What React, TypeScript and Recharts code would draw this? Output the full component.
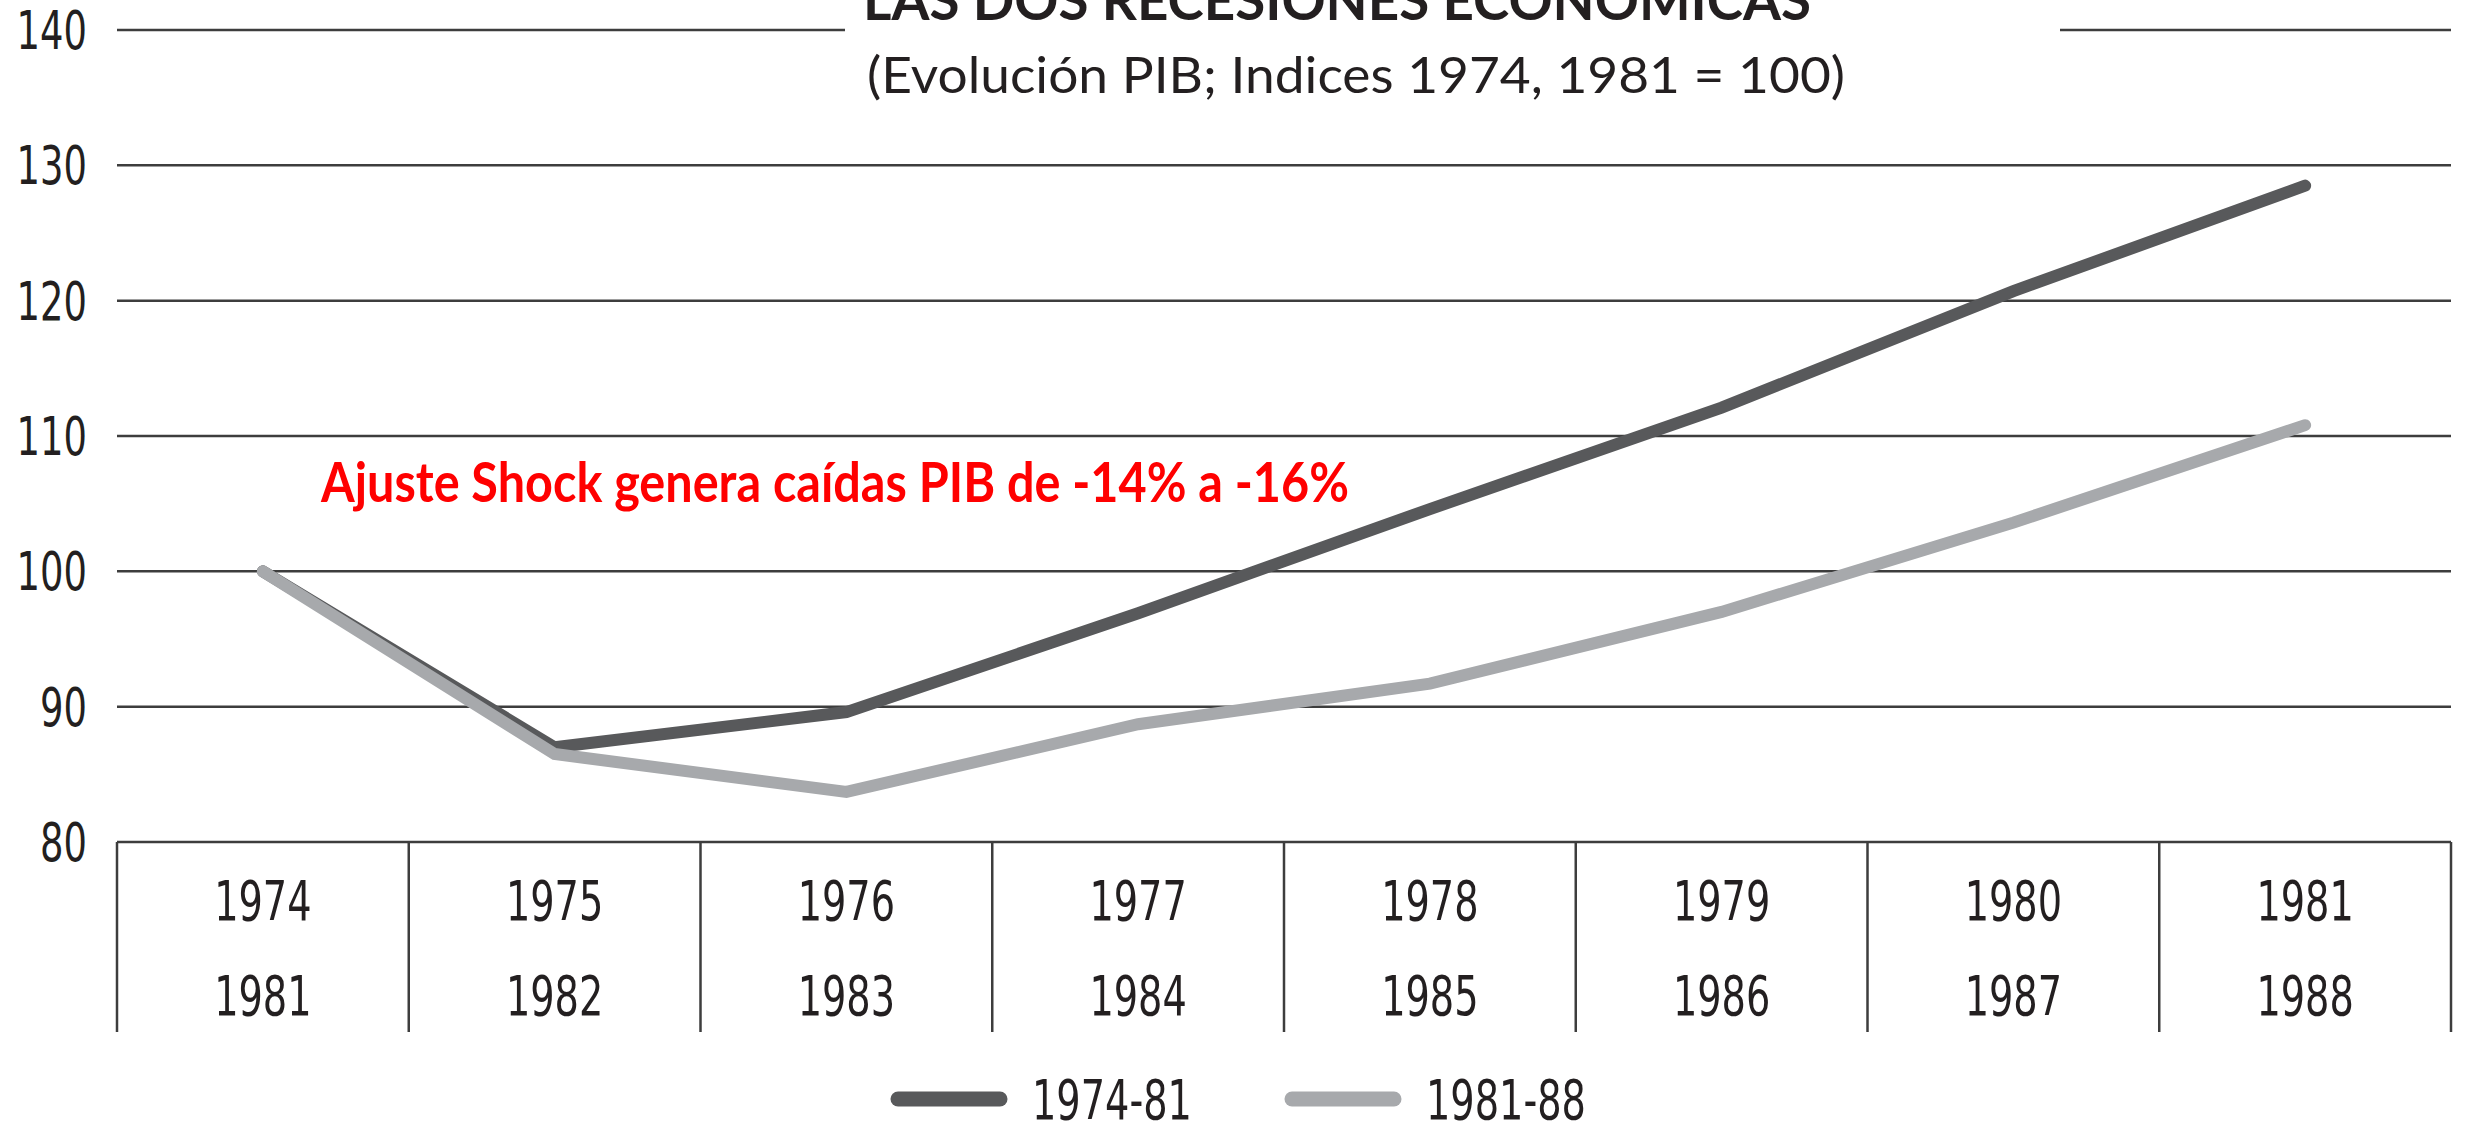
import { LineChart, Line, XAxis, YAxis, CartesianGrid, Legend } from 'recharts'

// Years shown in the two rows of the table under the chart
const yearsFirst = ['1974', '1975', '1976', '1977', '1978', '1979', '1980', '1981']
const yearsSecond = ['1981', '1982', '1983', '1984', '1985', '1986', '1987', '1988']

// GDP index, base year = 100
const gdp1974_81 = [100, 87.0, 89.6, 96.9, 104.6, 112.1, 120.7, 128.5]
const gdp1981_88 = [100, 86.5, 83.7, 88.7, 91.7, 97.0, 103.6, 110.8]

const yTicks = [80, 90, 100, 110, 120, 130, 140]

const chartData = yearsFirst.map((year, i) => ({
  year,
  later: yearsSecond[i],
  a: gdp1974_81[i],
  b: gdp1981_88[i],
}))

const W = 2470
const H = 1124
const PLOT_LEFT = 117
const PLOT_RIGHT = 19
const COL = (W - PLOT_LEFT - PLOT_RIGHT) / yearsFirst.length

// no narrow font installed, so squeeze a condensed one horizontally
const narrow = '"DejaVu Sans Condensed", "Liberation Sans Narrow", sans-serif'
const SQUEEZE = 0.76
const INK = '#231f20'
const RULE = '#3d3d3d'
const sans = "Lato, 'Open Sans', sans-serif"

function NarrowText({ x, y, anchor, size, children }: any) {
  return (
    <text
      transform={`translate(${x},${y}) scale(${SQUEEZE},1)`}
      textAnchor={anchor}
      fontFamily={narrow}
      fontSize={size}
      fill={INK}
    >
      {children}
    </text>
  )
}

function YTick({ x, y, payload }: any) {
  return (
    <NarrowText x={x} y={y + 19} anchor="end" size={54}>
      {payload.value}
    </NarrowText>
  )
}

// x axis drawn as a two-row table with vertical separators
function TableTick({ x, y, payload, index }: any) {
  const i = payload?.index ?? index
  const isLast = i === yearsFirst.length - 1
  return (
    <g>
      <line x1={x - COL / 2} x2={x - COL / 2} y1={y} y2={y + 190} stroke={RULE} strokeWidth={2.5} />
      {isLast && <line x1={x + COL / 2} x2={x + COL / 2} y1={y} y2={y + 190} stroke={RULE} strokeWidth={2.5} />}
      <NarrowText x={x} y={y + 78} anchor="middle" size={56}>
        {payload.value}
      </NarrowText>
      <NarrowText x={x} y={y + 173} anchor="middle" size={56}>
        {yearsSecond[i]}
      </NarrowText>
    </g>
  )
}

function LegendContent({ payload }: any) {
  return (
    <svg width={W - PLOT_RIGHT} height={50} style={{ display: 'block' }}>
      {(payload || []).map((item: any, i: number) => {
        const left = 890 + i * 394
        return (
          <g key={item.value}>
            <line x1={left + 8} x2={left + 110} y1={25} y2={25} stroke={item.color} strokeWidth={15} strokeLinecap="round" />
            <NarrowText x={left + 142} y={45} anchor="start" size={56}>
              {item.value}
            </NarrowText>
          </g>
        )
      })}
    </svg>
  )
}

export default function App() {
  return (
    <div style={{ position: 'absolute', left: 0, top: 0, width: W, height: H, background: '#fff' }}>
      <LineChart width={W} height={H} data={chartData} margin={{ top: 30, right: PLOT_RIGHT, bottom: 0, left: 0 }}>
        <CartesianGrid vertical={false} stroke={RULE} strokeWidth={2.5} />
        <XAxis
          dataKey="year"
          padding={{ left: COL / 2, right: COL / 2 }}
          height={232}
          interval={0}
          axisLine={false}
          tickLine={false}
          tickSize={0}
          tickMargin={0}
          tick={<TableTick />}
        />
        <YAxis
          type="number"
          width={PLOT_LEFT}
          domain={[80, 140]}
          ticks={yTicks}
          interval={0}
          axisLine={false}
          tickLine={false}
          tickSize={0}
          tickMargin={30}
          tick={<YTick />}
        />
        <Line
          type="linear"
          dataKey="a"
          name="1974-81"
          stroke="#58595b"
          strokeWidth={12}
          strokeLinecap="round"
          dot={false}
          activeDot={false}
          isAnimationActive={false}
        />
        <Line
          type="linear"
          dataKey="b"
          name="1981-88"
          stroke="#a7a9ac"
          strokeWidth={12}
          strokeLinecap="round"
          dot={false}
          activeDot={false}
          isAnimationActive={false}
        />
        <Legend verticalAlign="bottom" content={<LegendContent />} />
      </LineChart>

      {/* title block and annotation */}
      <svg width={W} height={H} style={{ position: 'absolute', left: 0, top: 0, pointerEvents: 'none' }}>
        <rect x={845} y={0} width={1215} height={125} fill="#fff" />
        <text
          x={1337}
          y={20}
          textAnchor="middle"
          fontFamily={sans}
          fontWeight={700}
          fontSize={56}
          fill={INK}
          textLength={948}
          lengthAdjust="spacingAndGlyphs"
        >
          LAS DOS RECESIONES ECONÓMICAS
        </text>
        <text
          x={1356}
          y={93}
          textAnchor="middle"
          fontFamily={sans}
          fontSize={50}
          fill={INK}
          textLength={978}
          lengthAdjust="spacingAndGlyphs"
        >
          (Evolución PIB; Indices 1974, 1981 = 100)
        </text>
        <text
          x={321}
          y={502}
          fontFamily={sans}
          fontWeight={700}
          fontSize={55}
          fill="#ff0000"
          textLength={1028}
          lengthAdjust="spacingAndGlyphs"
        >
          Ajuste Shock genera caídas PIB de -14% a -16%
        </text>
      </svg>
    </div>
  )
}
